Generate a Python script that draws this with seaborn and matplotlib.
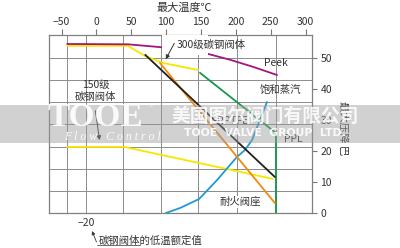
import matplotlib
matplotlib.use("Agg")
import matplotlib.pyplot as plt
from matplotlib.patches import Rectangle
from matplotlib.lines import Line2D
import pandas as pd
import seaborn as sns

# ---------------- data (temperature °C, pressure bar) ----------------
peek_t = [-42, 45, 91, 160, 192, 225, 259]
peek_p = [54.5, 54.4, 53.5, 51.3, 49.4, 47.1, 44.5]

cs300_t = [-42, 45, 70, 95, 146]
cs300_p = [53.9, 53.9, 50.6, 48.4, 46.1]

cs150_t = [-42, 40, 253]
cs150_p = [21.3, 21.3, 11.0]

rptfe_t = [70, 256]
rptfe_p = [51.0, 11.6]

fire_t = [91, 256]
fire_p = [48.4, 3.2]

ppl_t = [148.5, 257.5, 257.5]
ppl_p = [45.2, 25.8, 0.0]

steam_t = [99.7, 119.8, 147.1, 172.9, 201.6, 213, 223.1, 244.6]
steam_p = [0.0, 1.6, 4.5, 10.6, 18.1, 20.3, 23.5, 35.8]

x_ticks = [-50, 0, 50, 100, 150, 200, 250, 300]
y_ticks = [0, 10, 20, 30, 40, 50]
x_grid = [-42.3, -15.1, 38.7, 92.5, 146.3, 201.6, 257.5]
y_grid = [7.14, 14.28, 21.42, 28.56, 35.7, 42.84, 49.98]

series = [
    ("150级碳钢阀体", cs150_t, cs150_p, "#f7e600"),
    ("300级碳钢阀体", cs300_t, cs300_p, "#f7e600"),
    ("Peek", peek_t, peek_p, "#a3157f"),
    ("饱和蒸汽", steam_t, steam_p, "#1f9ad8"),
    ("PPL", ppl_t, ppl_p, "#12994a"),
    ("耐火阀座", fire_t, fire_p, "#f08a12"),
    ("RPTFE", rptfe_t, rptfe_p, "#231f20"),
]

# ---------------- style ----------------
sns.set_theme(style="white")
plt.rcParams["font.family"] = ["Noto Sans CJK SC", "DejaVu Sans"]
plt.rcParams["axes.unicode_minus"] = True
TXT = "#333333"
GRID = "#8c8c8c"

W, H = 400, 248
fig = plt.figure(figsize=(W / 100, H / 100), dpi=100)
fig.patch.set_facecolor("white")
ax = fig.add_axes([49 / W, 35 / H, 263 / W, 178 / H])
ax.set_facecolor("white")

for gx in x_grid:
    ax.axvline(gx, color=GRID, lw=0.7, zorder=1)
for gy in y_grid:
    ax.axhline(gy, color=GRID, lw=0.7, zorder=1)

for name, t, p, c in series:
    df = pd.DataFrame({"t": t, "p": p})
    sns.lineplot(data=df, x="t", y="p", ax=ax, color=c, lw=1.3,
                 estimator=None, sort=False, zorder=3)

ax.set_xlim(-68.1, 309.2)
ax.set_ylim(0, 57.4)
ax.set_xlabel("")
ax.set_ylabel("")

ax.xaxis.tick_top()
ax.set_xticks(x_ticks)
ax.set_xticklabels([str(v).replace("-", "\u2212") for v in x_ticks])
ax.yaxis.tick_right()
ax.set_yticks(y_ticks)
ax.tick_params(axis="x", top=True, bottom=False, direction="out", length=4,
               width=0.8, color="#777777", pad=1.5, labelsize=7.5, labelcolor=TXT)
ax.tick_params(axis="y", right=True, left=False, direction="out", length=3.5,
               width=0.8, color="#777777", pad=2.5, labelsize=7.5, labelcolor=TXT)
for s in ax.spines.values():
    s.set_color("#808080")
    s.set_linewidth(0.9)

# white area under the 300 label (gap in lines)
ax.add_patch(Rectangle((93.5, 50.8), 67, 6.6, facecolor="white",
                       edgecolor="none", zorder=4))
ax.text(115.5, 54.4, "300级碳钢阀体", fontsize=7.5, color=TXT,
        ha="left", va="center", zorder=6)
ax.annotate("", xy=(97.5, 48.8), xytext=(113.5, 55.5),
            arrowprops=dict(arrowstyle="-|>", color="#333333", lw=0.7,
                            mutation_scale=6), zorder=6)

ax.text(-1.4, 39.5, "150级\n碳钢阀体", fontsize=7.5, color=TXT,
        ha="center", va="center", linespacing=1.25, zorder=6)
ax.annotate("", xy=(5.0, 22.6), xytext=(-2.2, 33.9),
            arrowprops=dict(arrowstyle="-|>", color="#333333", lw=0.7,
                            mutation_scale=6), zorder=6)

ax.text(257.5, 48.4, "Peek", fontsize=7.5, color=TXT, ha="center", va="center", zorder=6)
ax.text(264.7, 39.7, "饱和蒸汽", fontsize=7.5, color=TXT, ha="center", va="center", zorder=6)
ax.text(195.8, 29.7, "RPTFE", fontsize=7.5, color=TXT, ha="center", va="center", zorder=6)
ax.text(282.0, 23.9, "PPL", fontsize=7.5, color=TXT, ha="center", va="center", zorder=6)
ax.text(205.9, 3.5, "耐火阀座", fontsize=7.5, color=TXT, ha="center", va="center",
        zorder=6, bbox=dict(boxstyle="square,pad=0.1", fc="white", ec="none"))


def fx(x):
    return x / W


def fy(y):
    return 1 - y / H


fig.text(fx(184), fy(7.5), "最大温度℃", fontsize=8, color=TXT, ha="center", va="center")
fig.text(fx(343), fy(128), "最大压降 巴", fontsize=7.5, color=TXT, ha="center",
         va="center", rotation=-90)

fig.text(fx(86.5), fy(223), "\u221220", fontsize=7.5, color=TXT, ha="center", va="center")
fig.text(fx(99), fy(240.5), "碳钢阀体的低温额定值", fontsize=7.5, color=TXT,
         ha="left", va="center")
fig.add_artist(Line2D([fx(97), fx(140)], [fy(244.5), fy(244.5)], color="#555555",
                      lw=0.6, transform=fig.transFigure))
ax.annotate("", xy=(fx(91), fy(228.5)), xytext=(fx(97.5), fy(244.5)),
            xycoords="figure fraction", textcoords="figure fraction",
            arrowprops=dict(arrowstyle="-|>", color="#333333", lw=0.6,
                            mutation_scale=5), annotation_clip=False)

# watermark band
fig.add_artist(Rectangle((0, fy(143)), 1, (143 - 105) / H, transform=fig.transFigure,
                         facecolor="#9a9a9a", alpha=0.45, edgecolor="none", zorder=10))
fig.text(fx(95), fy(117), "TOOE", fontsize=24, color="white", alpha=0.9,
         family=["Liberation Serif"], weight="bold", ha="center", va="center", zorder=11)
fig.text(fx(151), fy(107.5), "®", fontsize=5, color="white", alpha=0.9,
         ha="center", va="center", zorder=11)
fig.text(fx(112), fy(137.5), "F l o w   C o n t r o l", fontsize=8.5, color="white", alpha=0.9,
         family=["Liberation Serif"], style="italic", ha="center", va="center", zorder=11)
fig.text(fx(265), fy(116), "美国图尔阀门有限公司", fontsize=13.5, color="white", alpha=0.85,
         weight="bold", ha="center", va="center", zorder=11)
fig.text(fx(265), fy(133.5), "TOOE  VALVE  GROUP  LTD.", fontsize=7.8, color="white",
         alpha=0.9, family=["DejaVu Sans"], weight="bold", ha="center", va="center", zorder=11)

fig.savefig("out.png", dpi=100)
